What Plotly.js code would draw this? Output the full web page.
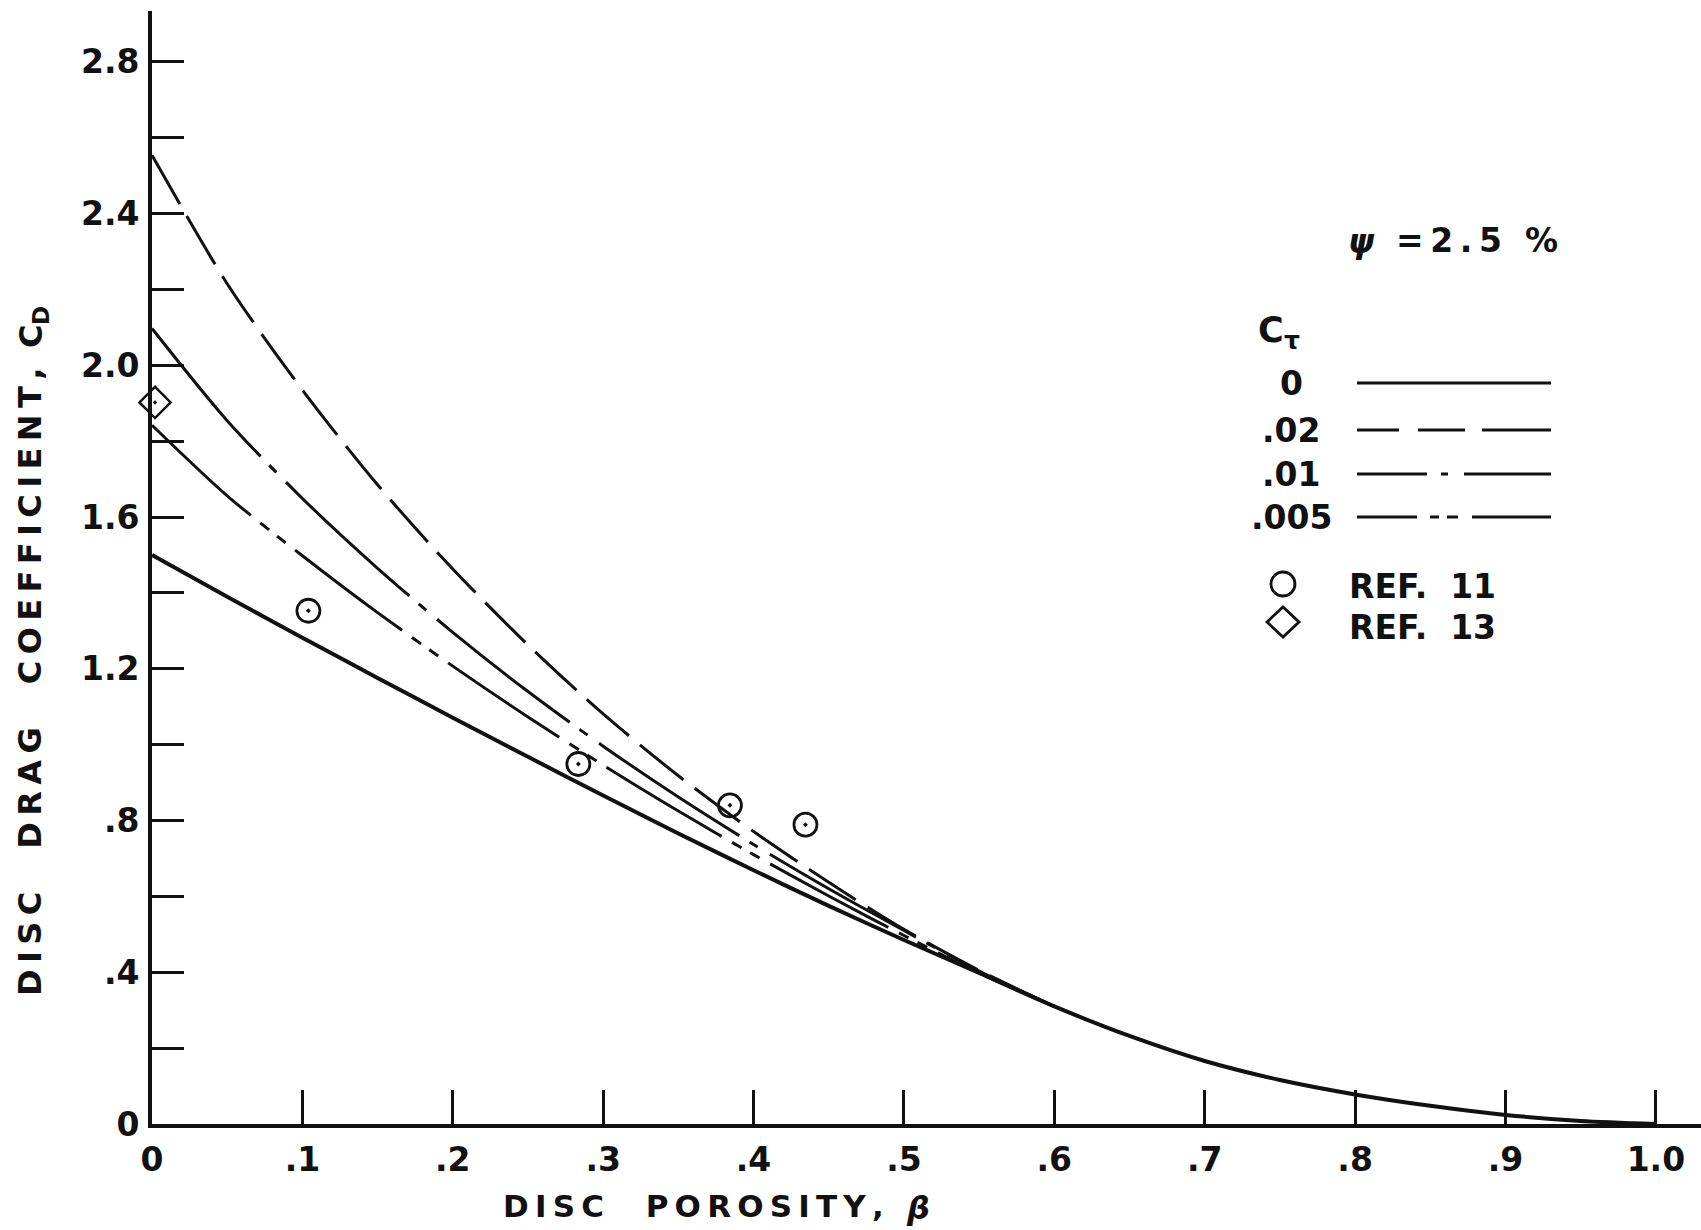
<!DOCTYPE html>
<html>
<head>
<meta charset="utf-8">
<script src="https://cdn.plot.ly/plotly-3.0.1.min.js"></script>
<style>html,body{margin:0;padding:0;background:#fff;}#chart{width:1701px;height:1230px;}</style>
</head>
<body>
<div id="chart"></div>
<script>
// ---- data ----
const beta = [0,0.05,0.1,0.15,0.2,0.25,0.3,0.35,0.4,0.45,0.5,0.55,0.6,0.65,0.7,0.75,0.8,0.85,0.9,0.95,1.0];
const cdCt0 = [1.500,1.390,1.282,1.176,1.071,0.968,0.866,0.766,0.669,0.575,0.485,0.398,0.310,0.232,0.166,0.116,0.078,0.048,0.024,0.008,0.0];

const betaUpper = [0,0.05,0.1,0.15,0.2,0.25,0.3,0.35,0.4,0.45,0.5,0.55,0.6];
const cdCt02  = [2.554,2.215,1.935,1.685,1.463,1.263,1.081,0.918,0.771,0.637,0.513,0.405,0.310];
const cdCt01  = [2.097,1.854,1.649,1.465,1.296,1.140,0.996,0.862,0.737,0.620,0.510,0.403,0.310];
const cdCt005 = [1.842,1.656,1.498,1.348,1.207,1.073,0.946,0.825,0.710,0.601,0.497,0.398,0.310];

const ref11Beta = [0.104,0.2835,0.3843,0.4345];
const ref11Cd   = [1.353,0.949,0.840,0.789];
const ref13Beta = [0.002];
const ref13Cd   = [1.902];

const xTickVals = [0,0.1,0.2,0.3,0.4,0.5,0.6,0.7,0.8,0.9,1.0];
const xTickText = ['0','.1','.2','.3','.4','.5','.6','.7','.8','.9','1.0'];
const yTickVals = [0,0.4,0.8,1.2,1.6,2.0,2.4,2.8];
const yTickText = ['0','.4','.8','1.2','1.6','2.0','2.4','2.8'];
const yMinorVals = [0.2,0.6,1.0,1.4,1.8,2.2,2.6];

const legendLabels = ['0','.02','.01','.005'];
const psiSymbol = 'ψ';
const psiValue = '=\u20092\u2009.\u20095\u2002\u2009%';
const ctMain = 'C', ctSub = 'τ';
const refLabels = ['REF.  11','REF.  13'];
const xTitleMain = 'D\u2009I\u2009S\u2009C\u2003 P\u2009O\u2009R\u2009O\u2009S\u2009I\u2009T\u2009Y\u2009,';
const xTitleSym = 'β';
const yTitleMain = 'D\u2009I\u2009S\u2009C\u2003 D\u2009R\u2009A\u2009G\u2003 C\u2009O\u2009E\u2009F\u2009F\u2009I\u2009C\u2009I\u2009E\u2009N\u2009T\u2009,';
const yTitleSym = 'C', yTitleSub = 'D';

// ---- layout geometry ----
const W = 1701, H = 1230;
const M = {l:152, r:0, t:11, b:106};
const PW = W - M.l - M.r, PH = H - M.t - M.b;
const px = x => (x - M.l) / PW;           // pixel -> paper x
const py = y => (H - M.b - y) / PH;        // pixel -> paper y

const FONT = 'DejaVu Sans, Liberation Sans, sans-serif';
const INK = '#111';

const traces = [
  {x: betaUpper, y: cdCt02, mode:'lines', name:'.02',
   line:{color:INK, width:3, shape:'spline', smoothing:0.8, dash:'56px,14px'}},
  {x: betaUpper, y: cdCt01, mode:'lines', name:'.01',
   line:{color:INK, width:3, shape:'spline', smoothing:0.8, dash:'168px,12px,10px,14px'}},
  {x: betaUpper, y: cdCt005, mode:'lines', name:'.005',
   line:{color:INK, width:3, shape:'spline', smoothing:0.8, dash:'134px,12px,11px,10px,11px,12px'}},
  {x: beta, y: cdCt0, mode:'lines', name:'0',
   line:{color:INK, width:4, shape:'spline', smoothing:0.8}},
  {x: ref11Beta, y: ref11Cd, mode:'markers', name:'REF. 11', cliponaxis:false,
   marker:{symbol:'circle-open-dot', size:23, color:INK, line:{width:2.8, color:INK}}},
  {x: ref13Beta, y: ref13Cd, mode:'markers', name:'REF. 13', cliponaxis:false,
   marker:{symbol:'diamond-open-dot', size:24, color:INK, line:{width:2.5, color:INK}}}
];

// legend drawing (positions in pixels of the reference)
const legRowY = [383, 430, 474, 517];
const legLineX = [1357, 1551];
const legDash = ['solid','42px,19px,47px,17px,300px,10px','70px,14px,7px,16px,300px,10px','60px,13px,9px,8px,11px,14px,300px,10px'];
const shapes = [];
legRowY.forEach((y,i)=>{
  shapes.push({type:'line', xref:'paper', yref:'paper',
    x0:px(legLineX[0]), x1:px(legLineX[1]), y0:py(y), y1:py(y),
    line:{color:INK, width:3, dash:legDash[i]}});
});
shapes.push({type:'circle', xref:'paper', yref:'paper', xsizemode:'pixel', ysizemode:'pixel',
  xanchor:px(1283), yanchor:py(584), x0:-12, x1:12, y0:-12, y1:12,
  line:{color:INK, width:2.8}});
shapes.push({type:'path', xref:'paper', yref:'paper', xsizemode:'pixel', ysizemode:'pixel',
  xanchor:px(1283), yanchor:py(622), path:'M -16 0 L 0 15 L 16 0 L 0 -15 Z',
  line:{color:INK, width:2.8}});

const bold = (size, extra) => Object.assign({family:FONT, size:size, color:INK, weight:'bold'}, extra || {});
const ann = (x, y, text, font, xa, ya, angle) => ({xref:'paper', yref:'paper', x:px(x), y:py(y),
  text:text, showarrow:false, xanchor:xa || 'center', yanchor:ya || 'middle', textangle:angle || 0, font:font});

const annotations = [];
annotations.push(ann(1361, 241, psiSymbol, bold(33, {style:'italic'})));
annotations.push(ann(1394, 240, psiValue, bold(33), 'left'));
annotations.push(ann(1271, 330, ctMain, bold(35)));
annotations.push(ann(1292, 341, ctSub, bold(25)));
legendLabels.forEach((t,i)=> annotations.push(ann(1291, legRowY[i], t, bold(33))));
refLabels.forEach((t,i)=> annotations.push(ann(1347, [586,627][i], t, bold(33), 'left')));
annotations.push(ann(501, 1206, xTitleMain, bold(31), 'left'));
annotations.push(ann(918, 1208, xTitleSym, bold(32, {style:'italic'})));
annotations.push(ann(30, 998, yTitleMain, bold(32), 'center', 'bottom', -90));
annotations.push(ann(31, 337, yTitleSym, bold(32), 'center', 'middle', -90));
annotations.push(ann(41, 316, yTitleSub, bold(23), 'center', 'middle', -90));

const tickFont = bold(33);
const layout = {
  width:W, height:H, margin:M,
  paper_bgcolor:'#fff', plot_bgcolor:'#fff',
  showlegend:false,
  font:{family:FONT, color:INK},
  xaxis:{range:[0,1.03], showline:true, linewidth:4, linecolor:INK, mirror:false,
    ticks:'inside', ticklen:34, tickwidth:3, tickcolor:INK,
    tickmode:'array', tickvals:xTickVals, ticktext:xTickText,
    showgrid:false, zeroline:false, ticklabelstandoff:3,
    tickfont:tickFont},
  yaxis:{range:[0,2.934], showline:true, linewidth:4, linecolor:INK,
    ticks:'inside', ticklen:32, tickwidth:3, tickcolor:INK,
    tickmode:'array', tickvals:yTickVals, ticktext:yTickText,
    minor:{tickmode:'array', tickvals:yMinorVals, ticks:'inside', ticklen:32, tickwidth:3, tickcolor:INK, showgrid:false},
    showgrid:false, zeroline:false, ticklabelstandoff:2,
    tickfont:tickFont},
  shapes:shapes, annotations:annotations
};

Plotly.newPlot('chart', traces, layout, {displayModeBar:false, staticPlot:true});
</script>
</body>
</html>
